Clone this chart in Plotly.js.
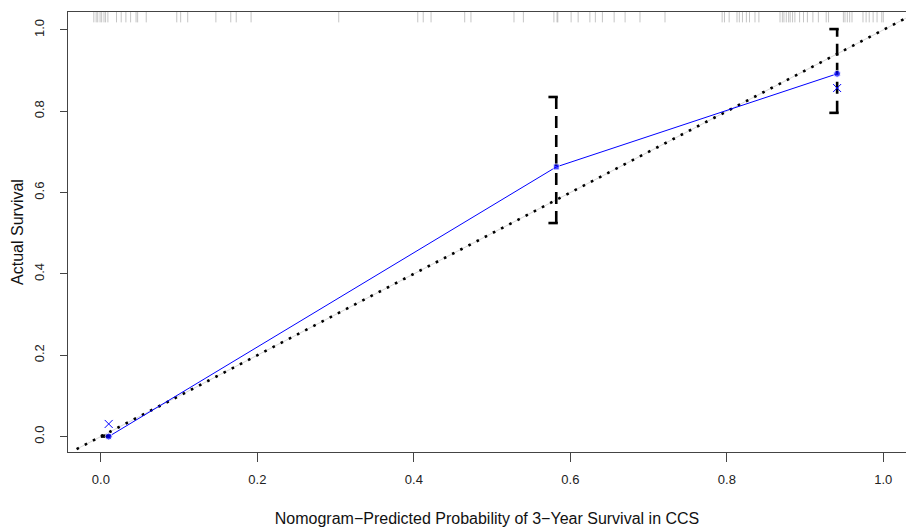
<!DOCTYPE html>
<html>
<head>
<meta charset="utf-8">
<script src="https://cdn.plot.ly/plotly-3.0.1.min.js"></script>
<style>html,body{margin:0;padding:0;background:#fff;}#chart{width:906px;height:527px;}</style>
</head>
<body>
<div id="chart"></div>
<script>
// Calibration curve (apparent)
var predX = [0.010, 0.582, 0.941];
var actualY = [0.000, 0.663, 0.892];
// Bias-corrected points
var correctedY = [0.031, 0.857];
var correctedX = [0.010, 0.941];
// Error bar limits
var ciLower = [0.000, 0.525, 0.796];
var ciUpper = [0.002, 0.835, 1.002];
// Ideal line ends
var idealX = [-0.031, 1.06];
var idealY = [-0.031, 1.06];
// Rug of predicted probabilities
var rugX = [-0.009,-0.006,-0.004,-0.001,0.001,0.004,0.006,0.009,0.020,0.026,0.032,0.038,0.045,0.047,0.058,
  0.097,0.102,0.111,0.147,0.166,0.173,0.192,0.304,0.405,0.412,0.422,0.465,0.473,0.528,0.540,
  0.579,0.583,0.584,0.601,0.610,0.625,0.632,0.641,0.656,0.670,0.689,0.721,
  0.794,0.797,0.803,0.813,0.816,0.820,0.825,0.829,0.836,0.841,
  0.868,0.871,0.873,0.876,0.879,0.881,0.884,0.887,0.893,0.898,0.903,0.910,0.917,0.927,0.930,
  0.949,0.951,0.954,0.957,0.960,0.974,0.978,0.982,0.987,0.992,0.998,1.000];
var xTicks = [0, 0.2, 0.4, 0.6, 0.8, 1.0];
var xTickText = ["0.0","0.2","0.4","0.6","0.8","1.0"];
var yTicks = [0, 0.2, 0.4, 0.6, 0.8, 1.0];
var yTickText = ["0.0","0.2","0.4","0.6","0.8","1.0"];

var capW = 0.010, capR = 0.002;
var barX = [], barY = [], capX = [], capY = [];
for (var i = 0; i < predX.length; i++) {
  barX.push(predX[i], predX[i], null);
  barY.push(ciLower[i], ciUpper[i], null);
  capX.push(predX[i]-capW, predX[i]+capR, null, predX[i]-capW, predX[i]+capR, null);
  capY.push(ciUpper[i], ciUpper[i], null, ciLower[i], ciLower[i], null);
}

var traces = [
  {x: idealX, y: idealY, mode: 'lines', line: {color: '#d8d8d8', width: 1}, hoverinfo: 'skip'},
  {x: idealX, y: idealY, mode: 'lines', line: {color: '#000', width: 2.6, dash: '2.6px,6.6px'}, hoverinfo: 'skip'},
  {x: rugX, y: rugX.map(function(){return 1.034;}), mode: 'markers',
   marker: {symbol: 'line-ns-open', size: 9, color: 'rgba(150,150,150,0.55)', line: {color: 'rgba(150,150,150,0.55)', width: 1}}, hoverinfo: 'skip'},
  {x: barX, y: barY, mode: 'lines', line: {color: '#000', width: 2.6, dash: '12px,7px'}, hoverinfo: 'skip'},
  {x: capX, y: capY, mode: 'lines', line: {color: '#000', width: 2.6}, hoverinfo: 'skip'},
  {x: predX, y: actualY, mode: 'lines', line: {color: '#0000ff', width: 1}},
  {x: predX, y: actualY, mode: 'markers', marker: {symbol: ['circle','square','circle'], size: [7,6,7], color: '#0000ff'}},
  {x: correctedX, y: correctedY, mode: 'markers', marker: {symbol: 'x-thin-open', size: 8, color: '#0000ff', line: {color: '#0000ff', width: 1}}}
];

var layout = {
  width: 906, height: 527,
  margin: {l: 68, r: 0, t: 12, b: 75},
  paper_bgcolor: '#fff', plot_bgcolor: '#fff',
  showlegend: false,
  font: {family: 'Liberation Sans, Arial, sans-serif', color: '#222'},
  xaxis: {
    range: [-0.042, 1.029], showgrid: false, zeroline: false,
    showline: true, linecolor: '#444', linewidth: 1.3, mirror: true,
    ticks: 'outside', ticklen: 9, tickwidth: 1, tickcolor: '#444',
    tickvals: xTicks, ticktext: xTickText, tickfont: {size: 13, color: '#222'},
    ticklabelstandoff: 6,
    title: {text: 'Nomogram\u2212Predicted Probability of 3\u2212Year Survival in CCS', font: {size: 16, color: '#111'}, standoff: 27}
  },
  yaxis: {
    range: [-0.038, 1.044], showgrid: false, zeroline: false,
    showline: true, linecolor: '#444', linewidth: 1.3, mirror: false,
    ticks: 'outside', ticklen: 7, tickwidth: 1, tickcolor: '#444',
    tickvals: yTicks, ticktext: yTickText, tickfont: {size: 13, color: '#222'},
    tickangle: -90, ticklabelstandoff: 11,
    title: {text: 'Actual Survival', font: {size: 16, color: '#111'}, standoff: 4}
  }
};
Plotly.newPlot('chart', traces, layout, {staticPlot: true, displayModeBar: false});
</script>
</body>
</html>
